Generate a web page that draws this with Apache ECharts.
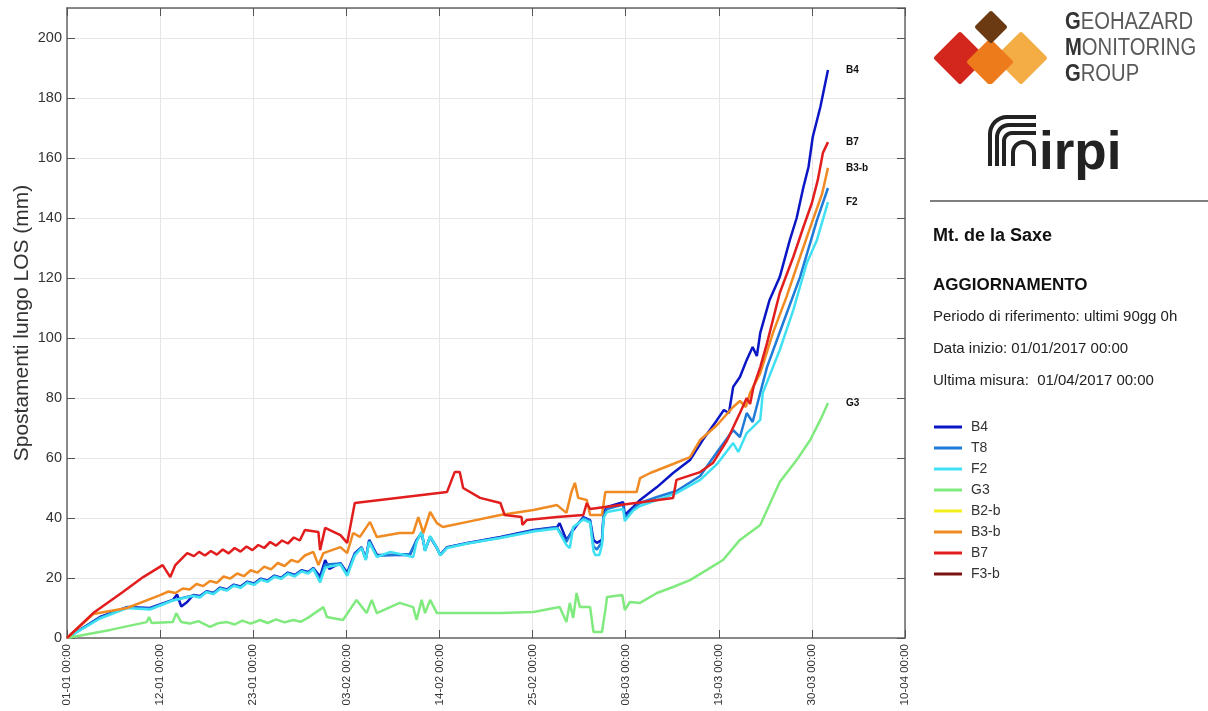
<!DOCTYPE html>
<html>
<head>
<meta charset="utf-8">
<title>Mt. de la Saxe - spostamenti</title>
<script src="https://cdn.jsdelivr.net/npm/echarts@6/dist/echarts.min.js"></script>
<style>
  html, body { margin: 0; padding: 0; background: #fff; }
  #chart { width: 1208px; height: 711px; }
</style>
</head>
<body>
<div id="chart"></div>
<script>
// etichette dell'asse x (un tick ogni 11 giorni a partire dal 01-01)
const xTickLabels = ['01-01 00:00', '12-01 00:00', '23-01 00:00', '03-02 00:00', '14-02 00:00',
  '25-02 00:00', '08-03 00:00', '19-03 00:00', '30-03 00:00', '10-04 00:00'];

// serie: [giorno dal 01/01/2017, spostamento mm]
const dataB4 = [[0,0],[3.9,7],[7.1,10.3],[9.8,10],[12.5,12.7],[13,14.5],[13.5,10.5],[14.2,12],[14.9,14.3],
  [15.7,14],[16.5,15.6],[17.3,15],[18.1,16.8],[18.9,16.2],[19.7,17.8],[20.5,17.2],[21.3,18.8],[22.1,18.2],
  [22.9,19.8],[23.7,19.2],[24.5,20.8],[25.3,20.1],[26.1,21.8],[26.9,21],[27.7,22.6],[28.5,22],[29.1,23.3],
  [29.9,20.5],[30.5,26],[31,23],[32.3,25],[33.1,21.7],[34,28.3],
  [34.8,30.3],[35.3,26.5],[35.7,32.7],[36.6,27.7],[40.5,27.7],[41.3,32.7],[41.9,35],[42.3,29.3],[42.9,33.7],
  [43.7,30],[44.1,27.7],[44.9,30.3],[47.3,31.7],[51.2,33.7],[55.1,36],[57.9,37],[58.2,38.3],[59,32.7],[59.8,36],
  [61,40.3],[61.8,39.3],[62.2,32.7],[62.6,31.7],[63.2,32.7],[63.4,41.7],[63.8,43.7],[65.7,45.3],[65.9,41],
  [66.9,43.7],[67.7,46],[69.7,50.3],[71.6,55],[73.6,59.3],[75.1,66],[76.8,72.7],[77.6,76],[78.2,75],[78.7,83.7],
  [79.5,87],[80.3,92.7],[81,97],[81.5,94],[81.9,101.7],[83,112.7],[84.2,120.3],[85.4,132.7],[86.2,140],
  [87,150.3],[87.6,157],[88.1,167],[89,177],[89.9,189.3]];
const dataT8 = [[0,0],[3.9,6.8],[7.1,10.2],[9.8,9.8],[12.5,12.6],[14.9,14.2],
  [15.7,13.8],[16.5,15.5],[17.3,14.9],[18.1,16.6],[18.9,16],[19.7,17.6],[20.5,17],[21.3,18.6],[22.1,18],
  [22.9,19.6],[23.7,19],[24.5,20.6],[25.3,20],[26.1,21.6],[26.9,20.8],[27.7,22.4],[28.5,21.8],[29.1,23.2],
  [29.9,19.5],[30.5,24.5],[32.3,24.8],[33.1,21.2],[34,28],[34.8,30.2],[35.3,26.3],[35.7,32.3],[36.6,27.4],
  [40.5,28],[41.3,32.4],[41.9,35.2],[42.3,29.2],[42.9,33.8],[43.7,30],[44.1,27.6],[44.9,30.2],[47.3,31.6],[51.2,33.5],
  [55.1,35.8],[57.9,36.8],[59,32],[59.8,36.5],[61,40],[61.8,39],[62.2,30.5],[62.6,29.5],[63.2,32],[63.4,41],
  [63.8,43],[65.7,44.5],[65.9,40],[66.9,43],[67.7,45],[69.7,47],[72,49],[74.8,54],[76.8,62],[78.7,69.3],[79.5,67],
  [80.3,75],[81,72],[81.9,81.7],[82.7,90.3],[84.6,105],[86.6,120.3],[88.6,139.3],[89.9,150]];
const dataF2 = [[0,0],[3.9,6.5],[7.1,10],[9.8,9.5],[12.5,12.5],[14.9,14],
  [15.7,13.5],[16.5,15.3],[17.3,14.6],[18.1,16.4],[18.9,15.8],[19.7,17.4],[20.5,16.7],[21.3,18.4],[22.1,17.7],
  [22.9,19.4],[23.7,18.7],[24.5,20.4],[25.3,19.7],[26.1,21.4],[26.9,20.5],[27.7,22.2],[28.5,21.5],[29.1,23],
  [29.9,18.5],[30.5,23.5],[32.3,24.5],[33.1,20.7],[34,27.5],[34.8,30],[35.3,26],[35.7,32],[36.6,27],[38.2,28.7],
  [40.9,27],[41.3,32],[41.9,35.5],[42.3,29],[42.9,34],[43.7,30],[44.1,27.5],[44.9,30],[47.3,31.5],[51.2,33.3],
  [55.1,35.5],[57.9,36.5],[59,31],[59.4,30],[59.8,37],[61,39.5],[61.8,38.5],[62.2,29],[62.4,27.7],[62.9,27.7],
  [63.2,31],[63.4,40],[63.8,42],[65.7,43],[65.9,39],[66.9,42.5],[67.7,44],[69.7,46],[72,48.3],[74.8,52.7],[76.8,58],
  [78.7,65],[79.3,62],[80.3,68.3],[81.9,72.7],[82.2,81.7],[84.2,96],[85.8,109.3],[87.4,125],[88.6,132.7],[89.9,145.3]];
const dataG3 = [[0,0],[5.1,2.7],[9.4,5.3],[9.7,7],[10,5],[12.5,5.3],[12.9,8.3],[13.5,5.3],[14.5,4.8],[15.5,5.6],
  [16.9,3.7],[17.8,4.9],[18.9,5.3],[19.8,4.5],[20.7,5.8],[21.7,4.8],[22.8,6],[23.7,5],[24.7,6.2],[25.7,5.2],
  [26.7,6],[27.6,5.4],[28.5,6.8],[30.3,10.3],[30.7,7],[32.6,6],[34.2,12.7],[35.4,8.3],[36,12.7],[36.6,8.3],[39.3,11.7],[40.9,10.3],
  [41.3,6],[41.9,12.7],[42.3,8.3],[42.9,12.7],[43.7,8.3],[47.3,8.3],[51.2,8.3],[55.1,8.7],[58.2,10.3],[59,5.3],
  [59.4,11.7],[59.8,6.7],[60.2,15],[60.6,10.3],[61.8,10.3],[62.2,2],[63.2,2],[63.6,9.3],[63.8,13.7],[65.6,14.3],
  [65.9,9.3],[66.5,12],[67.7,11.7],[69.7,15],[71.6,17],[73.6,19.3],[75.6,22.7],[77.5,26],[79.5,32.7],[81.9,37.7],
  [84.2,52],[86.2,59.3],[87.8,66],[89,72.7],[89.9,78.3]];
const dataB2b = [];
const dataB3b = [[0,0],[3.1,8],[7.1,10],[11,14.3],
  [12,15.5],[12.8,15],[13.7,16.5],[14.5,16.2],[15.3,18],[16.1,17.3],[16.9,19],[17.7,18.4],[18.5,20.5],[19.3,19.8],
  [20.1,21.5],[20.9,20.6],[21.7,22.6],[22.5,21.8],[23.3,23.8],[24.1,22.9],[24.9,25],[25.7,24],[26.5,26],[27.3,25.3],
  [28.1,27.5],[29.1,28.7],[29.7,24.3],
  [30.3,28.3],[32.3,30.3],[33.1,28.3],[33.8,35],[34.6,33.7],[35.8,38.7],[36.6,33.7],[39.3,35],[40.9,35],[41.5,40.3],
  [42.1,35],[42.9,42],[43.7,38.3],[44.4,37],[47.3,38.7],[51.2,41],[55.1,42.7],[57.9,44.3],[59,41.7],[59.6,48.7],
  [60,51.7],[60.4,46.7],[61.4,46],[61.8,41],[63.2,41],[63.6,48.7],[67.3,48.7],[67.7,53.3],[68.9,55],[71.6,58],
  [73.6,60.3],[74.8,66],[76.8,71],[78.7,77],[79.5,79],[80.2,77],[80.7,81.7],[81.9,88.3],[83.4,101.7],[85,113.7],
  [86.6,127],[88.1,139.3],[89.2,148],[89.9,156.7]];
const dataB7 = [[0,0],[3.1,8.3],[6.6,15.3],[9,20.3],[11.3,24.3],[12.2,20.3],[12.8,24.3],[14.2,28.3],
  [15,27.3],[15.6,28.7],[16.3,27.5],[17,29],[17.7,27.8],[18.4,29.5],[19.1,28.2],[19.8,30],[20.5,28.8],[21.2,30.5],
  [21.9,29.3],[22.6,31],[23.3,30],[24,32],[24.7,30.8],[25.4,32.5],[26.1,31.5],[26.8,33.5],[27.5,32.5],
  [28.1,36],[29.7,35.3],[29.9,29.3],[30.5,36.7],[32.3,34.3],[33.1,31.7],
  [34,45],[44.9,48.7],[45.8,55.3],[46.4,55.3],[46.8,50],[48.8,46.7],[51.2,45],[51.7,41],[53.7,40.3],[53.8,37.7],
  [54.3,39.3],[57.9,40.3],[61,41],[61.4,45],[61.8,43],[71.6,46.7],[72,52.7],[74.8,55.3],[76.3,58.3],[78,66],
  [79.5,75],[80.3,80],[80.7,78],[81.1,83.7],[81.9,90.3],[82.7,98.3],[84.2,115],[85.8,127],[87,137],[88,145],
  [88.7,152.7],[89.3,161.7],[89.9,165.3]];
const dataF3b = [];

const seriesNames = ['B4', 'T8', 'F2', 'G3', 'B2-b', 'B3-b', 'B7', 'F3-b'];
const seriesData = [dataB4, dataT8, dataF2, dataG3, dataB2b, dataB3b, dataB7, dataF3b];
const seriesColors = ['#0b16c4', '#1f7ad8', '#3fe0f2', '#80ea7e', '#f2ee1a', '#f08a22', '#e21d1d', '#7a1212'];
const labelled = ['B4', 'F2', 'G3', 'B3-b', 'B7'];

const FONT = 'Liberation Sans, Arial, sans-serif';
const chart = echarts.init(document.getElementById('chart'));

const series = seriesNames.map((name, i) => ({
  name: name,
  type: 'line',
  data: seriesData[i],
  xAxisIndex: 0,
  yAxisIndex: 0,
  showSymbol: false,
  symbol: 'none',
  lineStyle: { width: 2.5, color: seriesColors[i] },
  itemStyle: { color: seriesColors[i] },
  endLabel: {
    show: labelled.includes(name),
    formatter: name,
    distance: 18,
    fontFamily: FONT,
    fontSize: 10,
    fontWeight: 'bold',
    color: '#111'
  },
  emphasis: { disabled: true }
}));

// logo geohazard: rombi
function diamond(cx, cy, r, color) {
  return {
    type: 'polygon',
    shape: { points: [[cx, cy - r], [cx + r, cy], [cx, cy + r], [cx - r, cy]] },
    style: { fill: color, lineJoin: 'round', stroke: color, lineWidth: 4 }
  };
}

// logo irpi: angolo arrotondato (verticale, quarto di cerchio, orizzontale)
function corner(x, yBottom, yTop, r, xRight) {
  const pts = [[x, yBottom]];
  for (let k = 0; k <= 8; k++) {
    const a = Math.PI + (Math.PI / 2) * (k / 8);
    pts.push([x + r + r * Math.cos(a), yTop + r + r * Math.sin(a)]);
  }
  pts.push([xRight, yTop]);
  return {
    type: 'polyline',
    shape: { points: pts },
    style: { stroke: '#222', lineWidth: 4, fill: null }
  };
}
function arch(x1, x2, yBottom, yTop) {
  const r = (x2 - x1) / 2;
  const pts = [[x1, yBottom]];
  for (let k = 0; k <= 12; k++) {
    const a = Math.PI + Math.PI * (k / 12);
    pts.push([x1 + r + r * Math.cos(a), yTop + r + r * Math.sin(a)]);
  }
  pts.push([x2, yBottom]);
  return {
    type: 'polyline',
    shape: { points: pts },
    style: { stroke: '#222', lineWidth: 4, fill: null }
  };
}

const axisLineStyle = { color: '#666', width: 1.5 };
const tickStyle = { color: '#555' };

const option = {
  animation: false,
  backgroundColor: '#fff',
  textStyle: { fontFamily: FONT },
  grid: { left: 67, right: 303, top: 8, bottom: 73, containLabel: false },
  legend: {
    data: seriesNames,
    orient: 'vertical',
    left: 929,
    top: 415,
    icon: 'rect',
    itemWidth: 28,
    itemHeight: 3,
    itemGap: 7,
    textStyle: { fontFamily: FONT, fontSize: 14, color: '#333', padding: [0, 0, 0, 4] },
    selectedMode: false
  },
  xAxis: [{
    type: 'value',
    min: 0,
    max: 99,
    interval: 11,
    axisLine: { onZero: false, lineStyle: axisLineStyle },
    axisTick: { inside: true, length: 8, lineStyle: tickStyle },
    axisLabel: {
      rotate: 90,
      fontSize: 11.5,
      color: '#333',
      margin: 6,
      formatter: v => xTickLabels[Math.round(v / 11)]
    },
    splitLine: { show: true, lineStyle: { color: '#e6e6e6', width: 1 } }
  }, {
    type: 'value',
    position: 'top',
    min: 0,
    max: 99,
    interval: 11,
    axisLine: { show: true, onZero: false, lineStyle: axisLineStyle },
    axisTick: { show: true, inside: true, length: 8, lineStyle: tickStyle },
    axisLabel: { show: false },
    splitLine: { show: false }
  }],
  yAxis: [{
    type: 'value',
    min: 0,
    max: 210,
    interval: 20,
    name: 'Spostamenti lungo LOS (mm)',
    nameLocation: 'middle',
    nameGap: 34,
    nameMoveOverlap: false,
    nameTextStyle: { fontSize: 21, color: '#333' },
    axisLine: { show: true, onZero: false, lineStyle: axisLineStyle },
    axisTick: { show: true, inside: true, length: 8, lineStyle: tickStyle },
    axisLabel: { fontSize: 14.5, color: '#333', margin: 5, showMaxLabel: false },
    splitLine: { show: true, lineStyle: { color: '#e6e6e6', width: 1 } }
  }, {
    type: 'value',
    position: 'right',
    min: 0,
    max: 210,
    interval: 20,
    axisLine: { show: true, onZero: false, lineStyle: axisLineStyle },
    axisTick: { show: true, inside: true, length: 8, lineStyle: tickStyle },
    axisLabel: { show: false },
    splitLine: { show: false }
  }],
  series: series,
  graphic: [
    diamond(960, 58, 24, '#d3261c'),
    diamond(1021, 58, 24, '#f4ad45'),
    diamond(990, 62, 21, '#ee7b1b'),
    diamond(991, 27, 14, '#6b3a12'),
    {
      type: 'rect',
      shape: { x: 925, y: 84, width: 135, height: 14 },
      style: { fill: '#fff' }
    },
    {
      type: 'text', x: 1065, y: 10,
      scaleX: 0.88,
      style: {
        text: '{b|G}{n|EOHAZARD}\n{b|M}{n|ONITORING}\n{b|G}{n|ROUP}',
        rich: {
          b: { fontSize: 23, fontWeight: 'bold', fill: '#333', fontFamily: FONT, lineHeight: 26 },
          n: { fontSize: 23, fill: '#5a5a5a', fontFamily: FONT, lineHeight: 26 }
        }
      }
    },
    corner(990, 166, 117, 17, 1036),
    corner(997, 166, 125, 12, 1036),
    corner(1004, 166, 133, 8, 1036),
    arch(1013, 1034, 166, 142),
    {
      type: 'text', left: 1039, top: 128,
      style: { text: 'irpi', fontSize: 53, fontWeight: 'bold', fill: '#222', fontFamily: FONT }
    },
    {
      type: 'line',
      shape: { x1: 930, y1: 201, x2: 1208, y2: 201 },
      style: { stroke: '#555', lineWidth: 1.5 }
    },
    {
      type: 'text', left: 933, top: 227,
      style: { text: 'Mt. de la Saxe', fontSize: 18, fontWeight: 'bold', fill: '#111', fontFamily: FONT }
    },
    {
      type: 'text', left: 933, top: 277,
      style: { text: 'AGGIORNAMENTO', fontSize: 17, fontWeight: 'bold', fill: '#111', fontFamily: FONT }
    },
    {
      type: 'text', left: 933, top: 309,
      style: { text: 'Periodo di riferimento: ultimi 90gg 0h', fontSize: 15, fill: '#222', fontFamily: FONT }
    },
    {
      type: 'text', left: 933, top: 341,
      style: { text: 'Data inizio: 01/01/2017 00:00', fontSize: 15, fill: '#222', fontFamily: FONT }
    },
    {
      type: 'text', left: 933, top: 373,
      style: { text: 'Ultima misura:  01/04/2017 00:00', fontSize: 15, fill: '#222', fontFamily: FONT }
    }
  ]
};

chart.setOption(option);
</script>
</body>
</html>
